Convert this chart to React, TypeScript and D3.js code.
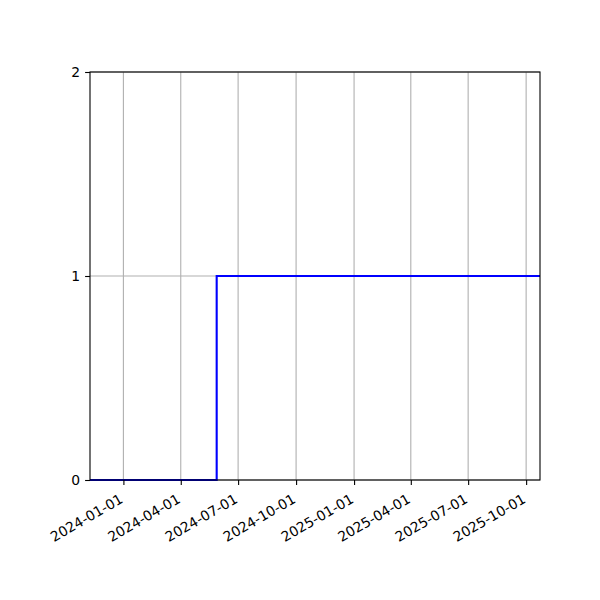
import { useRef, useEffect } from "react";
import * as d3 from "d3";

// step series: date where the value changes, and the value from then on
const stepDates = ["2023-11-09", "2024-05-28", "2025-10-23"];
const stepValues = [0, 1, 1];
const xTicks = [
  "2024-01-01", "2024-04-01", "2024-07-01", "2024-10-01",
  "2025-01-01", "2025-04-01", "2025-07-01", "2025-10-01",
];
const yTicks = [0, 1, 2];

const parse = d3.utcParse("%Y-%m-%d");

const App = () => {
  const svgRef = useRef(null);

  useEffect(() => {
    const svg = d3.select(svgRef.current);
    svg.selectAll("*").remove();

    const margin = { top: 72, right: 60, bottom: 120, left: 90 };
    const width = 600;
    const height = 600;
    const w = width - margin.left - margin.right;
    const h = height - margin.top - margin.bottom;

    const data = stepDates.map((d, i) => ({ date: parse(d), value: stepValues[i] }));

    const x = d3
      .scaleUtc()
      .domain([data[0].date, data[data.length - 1].date])
      .range([0, w]);
    const y = d3.scaleLinear().domain([0, 2]).range([h, 0]);

    const g = svg
      .append("g")
      .attr("transform", `translate(${margin.left},${margin.top})`);

    // grid
    g.selectAll(".gx")
      .data(xTicks.map(parse))
      .enter()
      .append("line")
      .attr("x1", (d) => x(d))
      .attr("x2", (d) => x(d))
      .attr("y1", 0)
      .attr("y2", h)
      .attr("stroke", "#b0b0b0")
      .attr("stroke-width", 1.1);
    g.selectAll(".gy")
      .data(yTicks)
      .enter()
      .append("line")
      .attr("x1", 0)
      .attr("x2", w)
      .attr("y1", (d) => y(d))
      .attr("y2", (d) => y(d))
      .attr("stroke", "#b0b0b0")
      .attr("stroke-width", 1.1);

    // step line
    const line = d3
      .line()
      .x((d) => x(d.date))
      .y((d) => y(d.value))
      .curve(d3.curveStepAfter);
    g.append("path")
      .datum(data)
      .attr("d", line)
      .attr("fill", "none")
      .attr("stroke", "#0000ff")
      .attr("stroke-width", 2.1);

    // axes
    const xAxis = g
      .append("g")
      .attr("transform", `translate(0,${h})`)
      .call(
        d3
          .axisBottom(x)
          .tickValues(xTicks.map(parse))
          .tickFormat(d3.utcFormat("%Y-%m-%d"))
          .tickSize(4.9)
      );
    xAxis.select(".domain").remove();
    xAxis
      .selectAll(".tick text")
      .attr("font-family", "DejaVu Sans")
      .attr("font-size", "13.9px")
      .attr("fill", "#000")
      .attr("text-anchor", "end")
      .attr("x", 0)
      .attr("y", 0)
      .attr("dy", "0.73em")
      .attr("transform", "translate(-5,13) rotate(-30)");
    xAxis.selectAll(".tick line").attr("stroke", "#000").attr("stroke-width", 1.1);

    const yAxis = g.append("g").call(
      d3.axisLeft(y).tickValues(yTicks).tickFormat(d3.format("d")).tickSize(4.9).tickPadding(4.9)
    );
    yAxis.select(".domain").remove();
    yAxis
      .selectAll(".tick text")
      .attr("font-family", "DejaVu Sans")
      .attr("font-size", "13.9px")
      .attr("fill", "#000");
    yAxis.selectAll(".tick line").attr("stroke", "#000").attr("stroke-width", 1.1);

    // frame
    g.append("rect")
      .attr("x", 0)
      .attr("y", 0)
      .attr("width", w)
      .attr("height", h)
      .attr("fill", "none")
      .attr("stroke", "#000")
      .attr("stroke-width", 1.1);
  }, []);

  return (
    <svg
      ref={svgRef}
      width={600}
      height={600}
      style={{ position: "absolute", left: 0, top: 0, background: "#fff" }}
    ></svg>
  );
};

export default App;
